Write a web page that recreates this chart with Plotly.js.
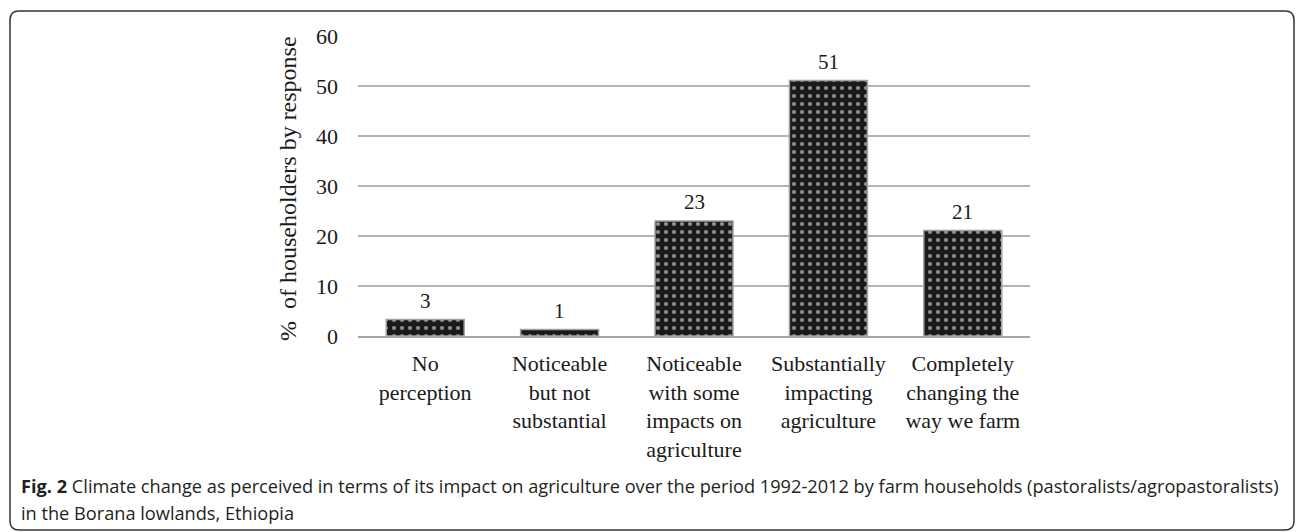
<!DOCTYPE html>
<html>
<head>
<meta charset="utf-8">
<script src="https://cdn.plot.ly/plotly-3.0.1.min.js"></script>
<style>
html,body{margin:0;padding:0;background:#fff;}
#chart{width:1296px;height:532px;}
</style>
</head>
<body>
<div id="chart"></div>
<script>
// Data
const categories = [
  "No<br>perception",
  "Noticeable<br>but not<br>substantial",
  "Noticeable<br>with some<br>impacts on<br>agriculture",
  "Substantially<br>impacting<br>agriculture",
  "Completely<br>changing the<br>way we farm"
];
const values = [3.3, 1.3, 23, 51.1, 21.1];
const valueLabels = ["3", "1", "23", "51", "21"];
const yTickValues = [0, 10, 20, 30, 40, 50, 60];
const yTitle = "%  of householders by response";
const captionBold = "Fig. 2";
const captionLine1 = " Climate change as perceived in terms of its impact on agriculture over the period 1992-2012 by farm households (pastoralists/agropastoralists)";
const captionLine2 = "in the Borana lowlands, Ethiopia";

// Layout geometry (pixels)
const W = 1296, H = 532;
const L = 358, R = 1030, T = 36, B = 336;
const px2x = p => (p - L) / (R - L);
const py2y = p => (B - p) / (B - T);

const serif = "Liberation Serif, Times New Roman, serif";

// rounded border path in paper coords
function roundedRect(x0, y0, x1, y1, r) {
  const X = px2x, Y = py2y;
  return `M ${X(x0 + r)} ${Y(y0)} L ${X(x1 - r)} ${Y(y0)} Q ${X(x1)} ${Y(y0)} ${X(x1)} ${Y(y0 + r)} ` +
         `L ${X(x1)} ${Y(y1 - r)} Q ${X(x1)} ${Y(y1)} ${X(x1 - r)} ${Y(y1)} ` +
         `L ${X(x0 + r)} ${Y(y1)} Q ${X(x0)} ${Y(y1)} ${X(x0)} ${Y(y1 - r)} ` +
         `L ${X(x0)} ${Y(y0 + r)} Q ${X(x0)} ${Y(y0)} ${X(x0 + r)} ${Y(y0)} Z`;
}

const trace = {
  type: "bar",
  x: categories,
  y: values,
  marker: {
    color: "#1c1c1c",
    line: {color: "#a0a0a0", width: 1.5},
    pattern: {shape: ".", fgcolor: "#ffffff", bgcolor: "#1a1a1a", size: 8, solidity: 0.22, fillmode: "overlay"}
  },
  hoverinfo: "skip"
};

const annotations = categories.map((c, i) => ({
  x: c, y: values[i], xref: "x", yref: "y",
  text: valueLabels[i], showarrow: false, yanchor: "bottom", yshift: 5,
  font: {family: serif, size: 21, color: "#1a1a1a"}
}));

annotations.push({
  xref: "paper", yref: "paper", x: px2x(288), y: py2y(189),
  text: yTitle, textangle: -90, showarrow: false,
  xanchor: "center", yanchor: "middle",
  font: {family: serif, size: 24, color: "#1a1a1a"}
});

annotations.push({
  xref: "paper", yref: "paper", x: px2x(19), y: py2y(486),
  xanchor: "left", yanchor: "middle", align: "left", showarrow: false,
  text: "<b>" + captionBold + "</b>" + captionLine1,
  font: {family: "Open Sans, sans-serif", size: 18.2, color: "#231f20"}
});
annotations.push({
  xref: "paper", yref: "paper", x: px2x(19), y: py2y(513),
  xanchor: "left", yanchor: "middle", align: "left", showarrow: false,
  text: captionLine2,
  font: {family: "Open Sans, sans-serif", size: 18.2, color: "#231f20"}
});

const layout = {
  width: W, height: H,
  margin: {l: L, r: W - R, t: T, b: H - B, pad: 0},
  paper_bgcolor: "#ffffff",
  plot_bgcolor: "#ffffff",
  showlegend: false,
  bargap: 0.42,
  xaxis: {
    type: "category",
    showgrid: false,
    showline: true, linecolor: "#a6a6a6", linewidth: 1.5,
    ticks: "", ticklabelstandoff: 7,
    tickfont: {family: serif, size: 22, color: "#1a1a1a"},
    fixedrange: true
  },
  yaxis: {
    range: [0, 60],
    tickvals: yTickValues,
    showgrid: true, gridcolor: "#b3b3b3", gridwidth: 1.5,
    zeroline: false, showline: false,
    ticks: "", ticklabelstandoff: 19,
    tickfont: {family: serif, size: 22, color: "#1a1a1a"},
    fixedrange: true
  },
  annotations: annotations,
  shapes: [{
    type: "path", xref: "paper", yref: "paper",
    path: roundedRect(10, 11, 1294, 530, 9),
    line: {color: "#333333", width: 1.5}, fillcolor: "rgba(0,0,0,0)", layer: "below"
  }]
};

Plotly.newPlot("chart", [trace], layout, {displayModeBar: false, staticPlot: true});
</script>
</body>
</html>
